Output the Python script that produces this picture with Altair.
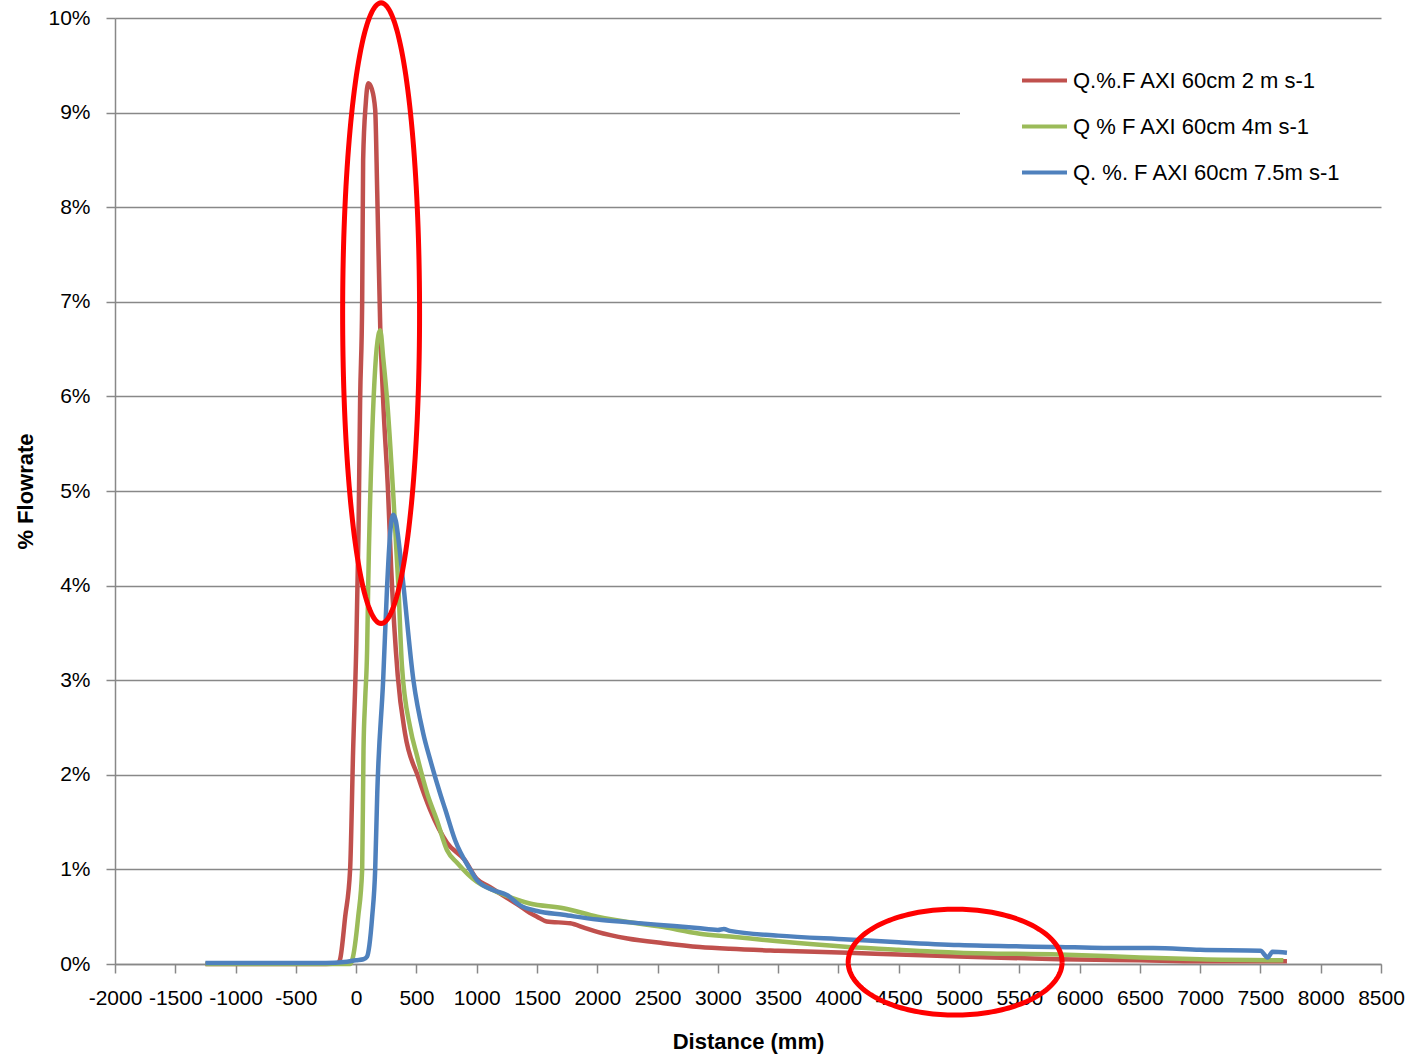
import altair as alt
import numpy as np
import pandas as pd

FONT = "Liberation Sans, Arial, sans-serif"

series_names = [
    "Q.%.F AXI 60cm 2 m s-1",
    "Q % F AXI 60cm 4m s-1",
    "Q. %. F AXI 60cm 7.5m s-1",
]
series_colors = ["#C0504D", "#9BBB59", "#4F81BD"]

# distance (mm) / % flowrate  -- 2 m s-1
red_x = [-1250, -1000, -750, -500, -250, -150, -133, -91, -50, -25, 0, 20, 33, 50, 58, 80, 100, 130, 158,
         175, 200, 224, 265, 290, 345, 405, 514, 614, 755, 900, 1000, 1100, 1250, 1350, 1440, 1500, 1580,
         1775, 1900, 2000, 2250, 2550, 2850, 3100, 3500, 4080, 4500, 5000, 5830, 6500, 7000, 7720]
red_y = [0.0, 0.0, 0.0, 0.0, 0.0, 0.01, 0.05, 0.5, 1.0, 2.26, 3.3, 4.6, 5.96, 7.0, 8.5, 9.1, 9.31, 9.25,
         9.03, 8.15, 6.73, 5.96, 4.98, 4.2, 3.05, 2.44, 1.98, 1.63, 1.28, 1.1, 0.9, 0.82, 0.7, 0.62, 0.54,
         0.5, 0.45, 0.43, 0.38, 0.34, 0.27, 0.22, 0.18, 0.16, 0.14, 0.12, 0.1, 0.08, 0.05, 0.04, 0.03, 0.03]

# 4 m s-1
green_x = [-1250, -1000, -750, -500, -250, -50, -33, 17, 50, 61, 75, 91, 100, 133, 158, 185, 200, 225, 257,
           307, 350, 380, 448, 505, 590, 670, 755, 837, 1000, 1100, 1250, 1440, 1720, 2000, 2550, 2850,
           3100, 3500, 4080, 4500, 5000, 5830, 6500, 7000, 7690]
green_y = [0.0, 0.0, 0.0, 0.0, 0.0, 0.0, 0.04, 0.5, 1.0, 2.26, 2.8, 3.32, 4.0, 5.6, 6.3, 6.65, 6.7, 6.4,
           5.96, 4.98, 4.0, 3.15, 2.5, 2.2, 1.8, 1.52, 1.2, 1.07, 0.87, 0.8, 0.72, 0.64, 0.59, 0.5, 0.39,
           0.32, 0.29, 0.24, 0.18, 0.15, 0.12, 0.1, 0.07, 0.05, 0.04]

# 7.5 m s-1
blue_x = [-1250, -1000, -750, -500, -250, -100, 0, 60, 91, 110, 133, 158, 175, 224, 257, 282, 307, 330,
          350, 390, 475, 556, 614, 697, 740, 820, 945, 1000, 1140, 1250, 1360, 1500, 1720, 2000,
          2270, 2550, 2830, 3000, 3050, 3100, 3500, 4080, 4500, 5000, 5830, 6200, 6610, 7000, 7500,
          7560, 7600, 7720]
blue_y = [0.01, 0.01, 0.01, 0.01, 0.01, 0.02, 0.04, 0.05, 0.08, 0.2, 0.5, 1.0, 1.8, 3.0, 4.0, 4.55,
          4.75, 4.68, 4.5, 4.03, 3.0, 2.44, 2.16, 1.8, 1.63, 1.31, 1.0, 0.89, 0.78, 0.73, 0.62, 0.56,
          0.52, 0.47, 0.44, 0.41, 0.38, 0.36, 0.37, 0.35, 0.3, 0.26, 0.23, 0.2, 0.18, 0.17, 0.17, 0.15,
          0.14, 0.07, 0.13, 0.12]

# annotation ellipses (centre x mm, centre y %, radius x mm, radius y %)
ell_cx = [207, 4968]
ell_cy = [6.88, 0.02]
ell_rx = [319, 887]
ell_ry = [3.28, 0.56]

x_ticks = list(range(-2000, 8501, 500))
y_ticks = list(range(0, 11))

rows = []
for name, xs, ys in zip(series_names, [red_x, green_x, blue_x], [red_y, green_y, blue_y]):
    for i, (a, b) in enumerate(zip(xs, ys)):
        rows.append({"series": name, "x": a, "y": b, "order": i})
df = pd.DataFrame(rows)

erows = []
t = np.linspace(0, 2 * np.pi, 181)
for k in range(len(ell_cx)):
    for i, tt in enumerate(t):
        erows.append({"e": k, "x": ell_cx[k] + ell_rx[k] * np.cos(tt),
                      "y": ell_cy[k] + ell_ry[k] * np.sin(tt), "order": i})
edf = pd.DataFrame(erows)

xscale = alt.Scale(domain=[-2000, 8500], nice=False, zero=False)
yscale = alt.Scale(domain=[0, 10], nice=False)

lines = alt.Chart(df).mark_line(strokeWidth=4.5, interpolate="monotone").encode(
    x=alt.X("x:Q", scale=xscale, title="Distance (mm)",
            axis=alt.Axis(values=x_ticks, labelExpr="'' + datum.value", grid=False,
                          tickSize=9, tickColor="#888888", domainColor="#888888", domainWidth=1.5,
                          tickWidth=1.5, labelFontSize=21, labelFont=FONT, labelColor="black",
                          labelPadding=14, labelFlush=False, labelOverlap=False,
                          titleFont=FONT, titleFontSize=22, titleFontWeight="bold", titleColor="black",
                          titlePadding=23)),
    y=alt.Y("y:Q", scale=yscale, title="% Flowrate",
            axis=alt.Axis(values=y_ticks, labelExpr="datum.value + '%'", grid=True, gridColor="#888888",
                          gridWidth=1.5, tickSize=9, tickColor="#888888", domainColor="#888888",
                          domainWidth=1.5, tickWidth=1.5, labelFontSize=21, labelFont=FONT,
                          labelColor="black", labelPadding=16, labelFlush=False,
                          titleFont=FONT, titleFontSize=22, titleFontWeight="bold", titleColor="black",
                          titlePadding=10)),
    color=alt.Color("series:N", sort=series_names,
                    scale=alt.Scale(domain=series_names, range=series_colors),
                    legend=alt.Legend(orient="none", legendX=845, legendY=23, title="\u00a0",
                                      titleOrient="right", titlePadding=45, titleFontSize=10,
                                      symbolType="stroke", symbolSize=2025, symbolStrokeWidth=4,
                                      symbolOffset=45, labelOffset=4, labelFont=FONT, labelFontSize=22,
                                      labelColor="black", labelLimit=500, fillColor="white", padding=15,
                                      rowPadding=10)),
    order="order:Q",
)

ellipses = alt.Chart(edf).mark_line(strokeWidth=5, color="#FF0000", clip=False).encode(
    x=alt.X("x:Q", scale=xscale),
    y=alt.Y("y:Q", scale=yscale),
    detail="e:N",
    order="order:Q",
)

chart = alt.layer(lines, ellipses).properties(
    width=1266, height=946,
    padding={"left": 115, "top": 18, "right": 31, "bottom": 93},
    autosize=alt.AutoSizeParams(type="none"),
    background="white",
).configure_view(stroke=None)

chart.save("out.html", embed_options={"renderer": "svg", "actions": False})
